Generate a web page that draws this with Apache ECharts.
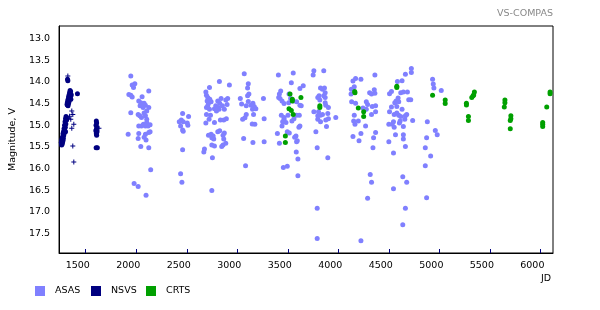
<!DOCTYPE html>
<html>
<head>
<meta charset="utf-8">
<script src="https://cdn.jsdelivr.net/npm/echarts@6/dist/echarts.min.js"></script>
<style>html,body{margin:0;padding:0;background:#fff}#c{width:600px;height:310px}</style>
</head>
<body>
<div id="c"></div>
<script>
// ---- data (JD, magnitude V) ----
var xTicks = [1500, 2000, 2500, 3000, 3500, 4000, 4500, 5000, 5500, 6000];
var yTicks = [13.0, 13.5, 14.0, 14.5, 15.0, 15.5, 16.0, 16.5, 17.0, 17.5];
var seriesNames = ['ASAS', 'NSVS', 'CRTS'];

var asasPoints = [
[1946,13.86],[1960,14.07],[1986,14.04],[1973,14.13],[1927,14.29],[1946,14.31],[1960,14.35],[2058,14.34],[2124,14.21],
[2025,14.44],[2045,14.48],[2058,14.52],[2078,14.49],[2038,14.55],[2068,14.59],[2091,14.54],[2124,14.59],[2104,14.67],
[2078,14.72],[1946,14.71],[2019,14.75],[2035,14.78],[2052,14.82],[2091,14.78],[2104,14.86],[2025,15.02],[2052,15.02],
[2071,14.98],[2091,15.02],[2117,15.02],[2137,14.99],[2104,14.94],[2137,15.15],[1920,15.21],[2025,15.19],[2091,15.21],
[2124,15.17],[2078,15.28],[2097,15.34],[2019,15.31],[2045,15.49],[2124,15.52],[2143,16.03],[1979,16.35],[2019,16.42],
[2097,16.62],
[2459,14.73],[2518,14.80],[2446,14.88],[2426,14.92],[2465,14.92],[2439,15.02],[2505,14.95],[2511,15.00],[2459,15.11],
[2465,15.14],[2459,15.57],[2439,16.12],[2452,16.32],
[2725,14.13],[2823,13.99],[2922,14.07],[2689,14.23],[2695,14.31],[2708,14.36],[2702,14.44],[2715,14.49],[2728,14.40],
[2741,14.46],[2708,14.55],[2695,14.59],[2725,14.63],[2840,14.38],[2807,14.44],[2826,14.49],[2787,14.55],[2813,14.59],
[2853,14.55],[2886,14.42],[2899,14.52],[2905,14.38],[2774,14.62],[2794,14.67],[2820,14.63],[2872,14.63],[2695,14.75],
[2735,14.77],[2721,14.86],[2689,14.95],[2774,14.94],[2833,14.88],[2866,14.88],[2892,14.85],[2715,15.23],[2741,15.21],
[2761,15.25],[2748,15.29],[2767,15.32],[2826,15.13],[2807,15.15],[2872,15.18],[2859,15.23],[2866,15.32],[2886,15.42],
[2846,15.49],[2859,15.46],[2748,15.46],[2774,15.48],[2675,15.55],[2669,15.62],[2754,15.75],[2748,16.51],
[3069,13.81],[3109,14.04],[3102,14.14],[3115,14.28],[3102,14.32],[3030,14.38],[3043,14.51],[3089,14.55],[3109,14.45],
[3135,14.54],[3155,14.49],[3168,14.57],[3151,14.63],[3184,14.62],[3161,14.75],[3089,14.75],[3076,14.83],[3053,14.86],
[3148,14.97],[3174,14.98],[3063,15.31],[3155,15.40],[3082,15.94],
[3259,14.38],[3266,14.85],[3266,15.38],[3407,13.84],[3554,13.79],[3535,14.02],[3620,14.15],[3653,14.09],[3430,14.21],
[3417,14.28],[3423,14.38],[3443,14.44],[3463,14.50],[3410,14.36],[3512,14.28],[3528,14.38],[3509,14.48],[3587,14.46],
[3554,14.44],[3633,14.55],[3620,14.54],[3436,14.77],[3463,14.82],[3449,14.92],[3443,15.02],[3482,14.94],[3463,14.86],
[3502,14.77],[3541,14.90],[3561,14.85],[3587,14.77],[3614,14.77],[3620,15.02],[3610,15.05],[3397,15.19],[3417,15.42],
[3495,15.15],[3515,15.18],[3581,15.25],[3568,15.28],[3594,15.36],[3587,15.38],[3584,15.62],[3600,15.78],[3456,15.98],
[3495,15.95],[3600,16.17],
[3758,13.74],[3856,13.74],[3751,13.84],[3824,14.14],[3843,14.17],[3863,14.14],[3870,14.25],[3856,14.32],[3810,14.32],
[3797,14.36],[3870,14.36],[3817,14.42],[3876,14.54],[3902,14.59],[3870,14.48],[3758,14.69],[3804,14.69],[3797,14.78],
[3824,14.77],[3843,14.75],[3896,14.73],[3975,14.82],[3876,14.88],[3797,14.86],[3824,14.92],[3902,14.85],[3883,15.03],
[3778,15.15],[3791,15.52],[3896,15.75],[3791,16.92],[3791,17.62],
[4145,13.98],[4171,13.92],[4129,14.17],[4158,14.11],[4126,14.28],[4132,14.46],[4171,14.49],[4158,14.77],[4152,14.90],
[4165,14.98],[4145,15.26],
[4224,13.94],[4362,13.84],[4310,14.25],[4356,14.18],[4362,14.26],[4329,14.28],[4277,14.46],[4290,14.52],[4244,14.60],
[4277,14.63],[4336,14.57],[4369,14.55],[4369,14.69],[4329,14.75],[4198,14.90],[4270,15.02],[4224,15.19],[4205,15.36],
[4349,15.29],[4369,15.17],[4343,15.52],[4316,16.14],[4329,16.32],[4290,16.69],[4224,17.67],
[4723,13.69],[4723,13.78],[4664,13.82],[4631,13.97],[4585,13.99],[4507,14.27],[4526,14.22],[4618,14.25],[4644,14.23],
[4684,14.23],[4592,14.37],[4572,14.44],[4559,14.48],[4598,14.46],[4697,14.41],[4717,14.41],[4526,14.58],[4579,14.57],
[4631,14.63],[4507,14.69],[4553,14.75],[4579,14.72],[4598,14.77],[4618,14.80],[4664,14.78],[4677,14.75],[4658,14.86],
[4612,14.90],[4605,14.95],[4546,14.92],[4533,14.98],[4553,15.05],[4500,14.98],[4644,15.03],[4736,14.89],[4644,15.22],
[4644,15.32],[4566,15.22],[4500,15.38],[4664,15.49],[4546,15.64],[4638,16.19],[4677,16.32],[4546,16.47],[4664,16.92],
[4638,17.30],
[4933,13.94],[4940,14.05],[4946,14.14],[5019,14.20],[4881,14.92],[4960,15.12],[4979,15.22],[4874,15.29],[4861,15.52],
[4914,15.71],[4861,15.94],[4874,16.68]
];

var nsvsDots = [
[1320,13.94],[1323,13.97],
[1345,14.20],[1350,14.22],[1340,14.25],[1352,14.28],[1335,14.30],[1345,14.32],[1330,14.35],[1348,14.36],[1326,14.40],
[1340,14.40],[1322,14.44],[1335,14.45],[1318,14.48],[1330,14.50],[1315,14.52],[1325,14.55],[1320,14.53],[1357,14.30],
[1353,14.40],[1418,14.27],
[1305,14.80],[1300,14.85],[1310,14.88],[1295,14.92],[1303,14.97],[1290,15.00],[1298,15.05],[1285,15.08],[1292,15.12],
[1280,15.15],[1288,15.18],[1275,15.20],[1282,15.24],[1270,15.27],[1278,15.30],[1265,15.32],[1262,15.36],[1272,15.38],
[1258,15.40],[1268,15.43],[1262,15.46],[1275,15.35],[1300,15.15],
[1605,14.90],[1608,14.95],[1602,15.00],[1610,15.05],[1605,15.10],[1600,15.13],[1612,15.15],[1605,15.20],[1608,15.23],
[1603,15.52],[1615,15.52]
];

var nsvsCrosses = [
[1323,13.86],[1362,14.67],[1372,14.75],[1340,14.79],[1330,14.85],[1352,14.86],[1382,14.98],[1362,15.07],[1372,15.48],
[1382,15.85],[1631,15.07]
];

var crtsPoints = [
[3476,15.25],[3476,15.40],[3512,14.62],[3522,14.28],[3535,14.66],[3545,14.44],[3545,14.40],[3554,14.75],[3630,14.36],
[3817,14.59],[3817,14.55],[4165,14.25],[4162,14.22],[4198,14.60],[4251,14.69],[4251,14.80],[4579,14.13],[4579,14.10],
[4933,14.31],[5058,14.42],[5058,14.50],[5268,14.49],[5268,14.53],[5288,14.80],[5288,14.89],[5321,14.36],[5334,14.32],
[5347,14.23],[5340,14.30],[5649,14.42],[5649,14.48],[5643,14.58],[5708,14.78],[5702,14.89],[5708,14.85],[5702,15.08],
[6023,14.94],[6023,15.03],[6023,14.98],[6063,14.58],[6096,14.23],[6096,14.27]
];

var colors = {ASAS: '#8080ff', NSVS: '#000080', CRTS: '#00a000'};
var FONT = 'DejaVu Sans';

var chart = echarts.init(document.getElementById('c'), null, {renderer: 'canvas'});
var crossPath = 'path://M2,0L3,0L3,2L5,2L5,3L3,3L3,5L2,5L2,3L0,3L0,2L2,2Z';

function legendFor(name, left) {
  return {
    data: [{name: name, icon: 'rect', itemStyle: {color: colors[name], opacity: 1}}],
    left: left, top: 286, itemWidth: 10, itemHeight: 10, padding: 0,
    selectedMode: false,
    textStyle: {fontFamily: FONT, fontSize: 9.5, color: '#000', padding: [0, 0, 0, 5]}
  };
}

chart.setOption({
  animation: false,
  backgroundColor: '#fff',
  textStyle: {fontFamily: FONT},
  title: {
    text: 'VS-COMPAS', right: 47, top: 9, padding: 0,
    textStyle: {fontFamily: FONT, fontSize: 9.5, fontWeight: 'normal', color: '#888'}
  },
  legend: [legendFor('ASAS', 35), legendFor('NSVS', 91), legendFor('CRTS', 146)],
  grid: {left: 56, top: 26, right: 47, bottom: 57, show: true, borderColor: '#000', borderWidth: 1, containLabel: false},
  xAxis: {
    type: 'value', min: 1236, max: 6125,
    name: 'JD', nameLocation: 'end', nameGap: -2,
    nameTextStyle: {fontFamily: FONT, fontSize: 9.5, color: '#000', align: 'right', verticalAlign: 'top', padding: [21, 0, 0, 0]},
    axisLine: {show: true, onZero: false, lineStyle: {color: '#000', width: 1}},
    axisTick: {show: true, inside: true, length: 4, customValues: xTicks, lineStyle: {color: '#000080'}},
    axisLabel: {customValues: xTicks, fontFamily: FONT, fontSize: 9.5, color: '#000', margin: 8, padding: [0, 16, 0, 0],
      formatter: function (v) { return String(v); }},
    splitLine: {show: false}
  },
  yAxis: {
    type: 'value', inverse: true, min: 12.706, max: 17.955,
    name: 'Magnitude, V', nameLocation: 'middle', nameGap: 41,
    nameTextStyle: {fontFamily: FONT, fontSize: 9.5, color: '#000'},
    axisLine: {show: true, onZero: false, lineStyle: {color: '#000', width: 1}},
    axisTick: {show: false, customValues: yTicks},
    axisLabel: {customValues: yTicks, fontFamily: FONT, fontSize: 9.5, color: '#000', margin: 9,
      formatter: function (v) { return v.toFixed(1); }},
    splitLine: {show: false}
  },
  series: [
    {name: 'ASAS', type: 'scatter', data: asasPoints, symbol: 'circle', symbolSize: 5,
      itemStyle: {color: colors.ASAS, opacity: 1}, z: 2},
    {name: 'NSVS', type: 'scatter', data: nsvsDots, symbol: 'circle', symbolSize: 5,
      itemStyle: {color: colors.NSVS, opacity: 1}, z: 3},
    {name: 'NSVS', type: 'scatter', data: nsvsCrosses, symbol: crossPath, symbolSize: 5,
      itemStyle: {color: colors.NSVS, opacity: 1}, z: 3},
    {name: 'CRTS', type: 'scatter', data: crtsPoints, symbol: 'circle', symbolSize: 5,
      itemStyle: {color: colors.CRTS, opacity: 1}, z: 4}
  ]
});
</script>
</body>
</html>
